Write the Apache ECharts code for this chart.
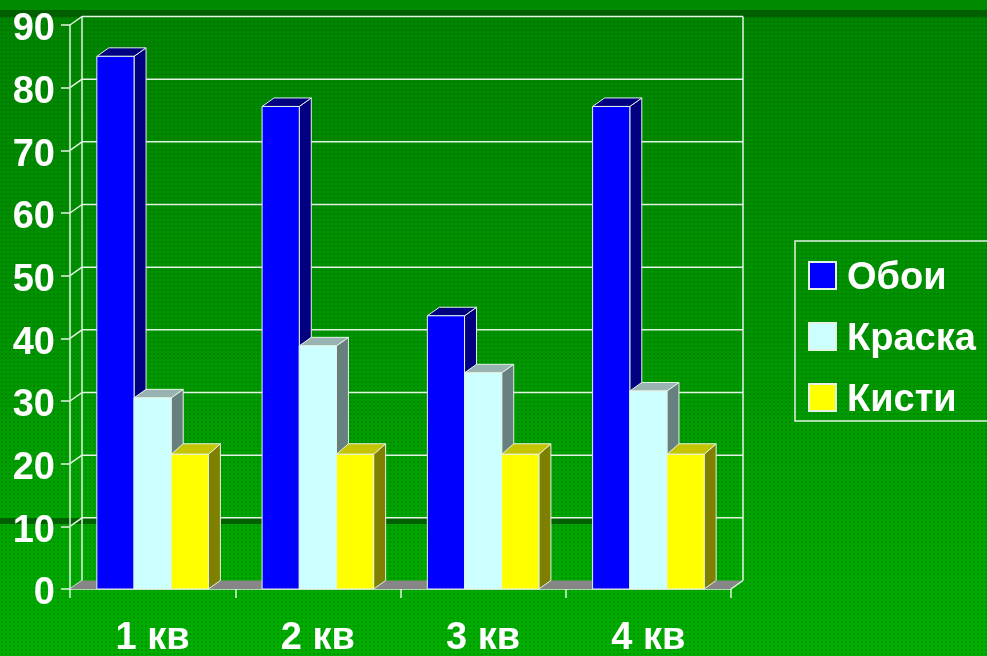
<!DOCTYPE html>
<html>
<head>
<meta charset="utf-8">
<title>Chart</title>
<script src="https://cdn.jsdelivr.net/npm/echarts@6/dist/echarts.min.js"></script>
<style>
  html, body { margin: 0; padding: 0; overflow: hidden; }
  #wrap {
    position: relative;
    width: 987px;
    height: 656px;
    background-color: #008a00;
    background-image:
      linear-gradient(#008a00 0, #008a00 10px, transparent 10px),
      radial-gradient(rgba(0, 50, 0, .18) 1px, transparent 1.3px),
      linear-gradient(#008400 0, #009400 50%, #00a800 85%, #00ae00 100%);
    background-size: 100% 100%, 4px 4px, 100% 100%;
  }
  #chart { position: absolute; left: 0; top: 0; width: 987px; height: 656px; }
</style>
</head>
<body>
<div id="wrap"><div id="chart"></div></div>
<script>
const categories = ['1 кв', '2 кв', '3 кв', '4 кв']
const yTicks = [0, 10, 20, 30, 40, 50, 60, 70, 80, 90]
const oboi = [85, 77, 43.6, 77]
const kraska = [30.5, 38.8, 34.5, 31.6]
const kisti = [21.5, 21.5, 21.5, 21.5]

const LINE = '#e4f4e4'
const DEPTH_X = 12
const DEPTH_Y = 8.5

const chart = echarts.init(document.getElementById('chart'))

// back wall, floor and the little diagonals at each tick
function renderWall(params, api) {
  const cs = params.coordSys
  const y = api.coord([0, api.value(0)])[1]
  const lineStyle = { stroke: LINE, lineWidth: 1.5, fill: null }
  const left = cs.x
  const right = cs.x + cs.width
  const children = [
    { type: 'line', shape: { x1: left, y1: y, x2: left + DEPTH_X, y2: y - DEPTH_Y }, style: lineStyle },
  ]
  if (params.dataIndex === 0) {
    children.push({
      type: 'polygon',
      shape: { points: [[left, y], [left + DEPTH_X, y - DEPTH_Y], [right + DEPTH_X, y - DEPTH_Y], [right, y]] },
      style: { fill: '#868686' },
    })
    const top = cs.y - DEPTH_Y
    children.push(
      { type: 'line', shape: { x1: left + DEPTH_X, y1: top, x2: left + DEPTH_X, y2: y - DEPTH_Y }, style: lineStyle },
      { type: 'line', shape: { x1: right + DEPTH_X, y1: top, x2: right + DEPTH_X, y2: y - DEPTH_Y }, style: lineStyle },
      { type: 'line', shape: { x1: right, y1: y, x2: right + DEPTH_X, y2: y - DEPTH_Y }, style: lineStyle }
    )
  } else {
    children.push({
      type: 'line',
      shape: { x1: left + DEPTH_X, y1: y - DEPTH_Y, x2: right + DEPTH_X, y2: y - DEPTH_Y },
      style: lineStyle,
    })
  }
  return { type: 'group', children }
}

function barSeries(name, values, slot, front, top, side, dy = DEPTH_Y) {
  return {
    name,
    type: 'custom',
    z: 3,
    itemStyle: { color: front, borderColor: LINE, borderWidth: 1 },
    data: values.map((v, i) => [i, v]),
    encode: { x: 0, y: 1 },
    renderItem(params, api) {
      const p = api.coord([api.value(0), api.value(1)])
      const base = api.coord([api.value(0), 0])
      const band = api.size([1, 0])[0]
      const w = band * 0.225
      const x = p[0] - w * 1.5 + slot * w
      const y = p[1]
      const b = base[1]
      const r = x + w
      const dx = DEPTH_X
      const border = { stroke: LINE, lineWidth: 1 }
      return {
        type: 'group',
        children: [
          {
            type: 'polygon',
            shape: { points: [[r, y], [r + dx, y - dy], [r + dx, b - DEPTH_Y], [r, b]] },
            style: { fill: side, ...border },
          },
          {
            type: 'polygon',
            shape: { points: [[x, y], [x + dx, y - dy], [r + dx, y - dy], [r, y]] },
            style: { fill: top, ...border },
          },
          {
            type: 'rect',
            shape: { x, y, width: w, height: b - y },
            style: { fill: front, ...border },
          },
        ],
      }
    },
  }
}

chart.setOption({
  animation: false,
  backgroundColor: 'transparent',
  graphic: [
    { type: 'rect', z: 0, silent: true, shape: { x: 0, y: 10, width: 987, height: 7 }, style: { fill: '#006000' } },
    { type: 'rect', z: 0, silent: true, shape: { x: 0, y: 518, width: 593, height: 6 }, style: { fill: '#006000' } },
  ],
  grid: { left: 70, right: 256, top: 25, bottom: 67, outerBoundsMode: 'none' },
  legend: {
    data: ['Обои', 'Краска', 'Кисти'],
    orient: 'vertical',
    left: 795,
    top: 241,
    padding: [18.5, 60, 1.5, 13],
    itemWidth: 27,
    itemHeight: 27,
    itemGap: 23,
    selectedMode: false,
    borderColor: LINE,
    borderWidth: 1.5,
    icon: 'rect',
    formatter: '{a|{name}}',
    textStyle: {
      rich: {
        a: {
          color: '#fff',
          fontFamily: 'Liberation Sans',
          fontWeight: 'bold',
          fontSize: 38,
          padding: [6, 0, 0, 6],
        },
      },
    },
  },
  xAxis: {
    type: 'category',
    data: categories,
    axisLine: { lineStyle: { color: LINE, width: 1.5 } },
    axisTick: { show: true, length: 9, lineStyle: { color: LINE, width: 1.5 } },
    axisLabel: {
      color: '#fff',
      fontFamily: 'Liberation Sans',
      fontWeight: 'bold',
      fontSize: 38,
      margin: 31,
    },
    splitLine: { show: false },
  },
  yAxis: {
    type: 'value',
    min: 0,
    max: 90,
    interval: 10,
    axisLine: { show: true, lineStyle: { color: LINE, width: 1.5 } },
    axisTick: { show: true, length: 9, lineStyle: { color: LINE, width: 1.5 } },
    axisLabel: {
      color: '#fff',
      fontFamily: 'Liberation Sans',
      fontWeight: 'bold',
      fontSize: 38,
      margin: 15,
      verticalAlign: 'top',
      lineHeight: 10,
    },
    splitLine: { show: false },
  },
  series: [
    {
      name: 'wall',
      type: 'custom',
      z: 1,
      silent: true,
      data: yTicks.map(v => [v]),
      encode: { y: 0 },
      renderItem: renderWall,
    },
    barSeries('Обои', oboi, 0, '#0000ff', '#000080', '#000080'),
    barSeries('Краска', kraska, 1, '#ccffff', '#99b3b3', '#668080'),
    barSeries('Кисти', kisti, 2, '#ffff00', '#c4c400', '#808000', 10.5),
  ],
})
</script>
</body>
</html>
